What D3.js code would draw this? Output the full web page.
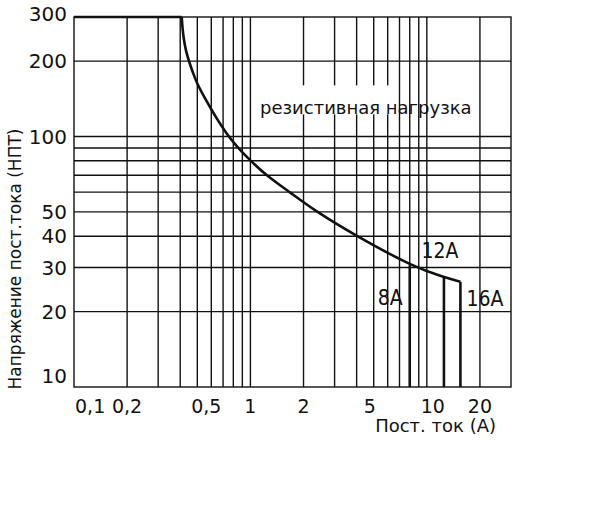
<!DOCTYPE html>
<html>
<head>
<meta charset="utf-8">
<script src="https://cdn.jsdelivr.net/npm/d3@7/dist/d3.min.js"></script>
<style>
  html, body { margin: 0; padding: 0; background: #fff; }
  svg { display: block; }
  text { font-family: "DejaVu Sans", sans-serif; fill: #111; }
</style>
</head>
<body>
<script>
// ---- data ----
const xTickValues = [0.1, 0.2, 0.5, 1, 2, 5, 10, 20];
const xTickLabels = ["0,1", "0,2", "0,5", "1", "2", "5", "10", "20"];
const xGrid = [0.2, 0.3, 0.4, 0.5, 0.6, 0.7, 0.8, 0.9, 1, 2, 3, 4, 5, 6, 7, 8, 9, 10, 20];
const yTickValues = [10, 20, 30, 40, 50, 100, 200, 300];
const yTickLabels = ["10", "20", "30", "40", "50", "100", "200", "300"];
const yGrid = [20, 30, 40, 50, 60, 70, 80, 90, 100, 200];
// load limit curve: current (A), voltage (V)
const flatCurrent = [0.1, 0.408];
const flatVoltage = [300, 300];
const curveCurrent = [0.408, 0.412, 0.42, 0.432, 0.448, 0.485, 0.527, 0.735, 1, 1.23, 1.67, 2.37, 4, 8.5, 12.5, 15.5];
const curveVoltage = [300, 270, 242, 218, 200, 170, 150, 100, 80, 70, 60, 50, 40, 30, 27.5, 26.3];
// current limits (vertical drops)
const limitLabels = ["8A", "12A", "16A"];
const limitCurrent = [8, 12.5, 15.5];
const limitVoltage = [30.6, 27.5, 26.3];
const title = "резистивная нагрузка";
const xTitle = "Пост. ток (А)";
const yTitle = "Напряжение пост.тока (НПТ)";

// ---- layout ----
const W = 602, H = 524;
const svg = d3.select("body").append("svg").attr("width", W).attr("height", H);
const x = d3.scaleLog().domain([0.1, 30]).range([74, 511]);
const y = d3.scaleLog().domain([10, 300]).range([387, 17]);
const ink = "#111";

// grid
const g = svg.append("g");
g.selectAll(".vg").data(xGrid).enter().append("line")
  .attr("x1", d => x(d)).attr("x2", d => x(d))
  .attr("y1", y(300)).attr("y2", y(10))
  .attr("stroke", ink).attr("stroke-width", 1.4);
g.selectAll(".hg").data(yGrid).enter().append("line")
  .attr("x1", x(0.1)).attr("x2", x(30))
  .attr("y1", d => y(d)).attr("y2", d => y(d))
  .attr("stroke", ink).attr("stroke-width", 1.4);
// frame
g.append("rect").attr("x", x(0.1)).attr("y", y(300))
  .attr("width", x(30) - x(0.1)).attr("height", y(10) - y(300))
  .attr("fill", "none").attr("stroke", ink).attr("stroke-width", 1.4);

// label box + text
svg.append("rect").attr("x", x(0.7) + 30).attr("y", y(160))
  .attr("width", 140).attr("height", 29).attr("fill", "#fff");
svg.append("text").attr("x", 260).attr("y", 114)
  .attr("font-size", 18).text(title);

// curve
const pts = curveCurrent.map((c, i) => [x(c), y(curveVoltage[i])]);
const flat = flatCurrent.map((c, i) => [x(c), y(flatVoltage[i])]);
svg.append("path").attr("d", d3.line()(flat))
  .attr("fill", "none").attr("stroke", ink).attr("stroke-width", 2.6);
svg.append("path").attr("d", d3.line().curve(d3.curveBasis)(pts))
  .attr("fill", "none").attr("stroke", ink).attr("stroke-width", 2.6)
  .attr("stroke-linejoin", "round");

// drops
svg.selectAll(".drop").data(limitCurrent).enter().append("line")
  .attr("x1", d => x(d)).attr("x2", d => x(d))
  .attr("y1", (d, i) => y(limitVoltage[i])).attr("y2", y(10))
  .attr("stroke", ink).attr("stroke-width", 2.6);

// limit labels
const lf = "'DejaVu Sans Condensed', 'DejaVu Sans', sans-serif";
svg.append("text").attr("x", x(limitCurrent[0]) - 7).attr("y", y(21.2))
  .attr("text-anchor", "end").attr("font-size", 21).style("font-family", lf).text(limitLabels[0]);
svg.append("text").attr("x", x(limitCurrent[1]) - 4).attr("y", y(32.6))
  .attr("text-anchor", "middle").attr("font-size", 21).style("font-family", lf).text(limitLabels[1]);
svg.append("text").attr("x", x(limitCurrent[2]) + 6).attr("y", y(21))
  .attr("text-anchor", "start").attr("font-size", 21).style("font-family", lf).text(limitLabels[2]);

// x tick labels
const xNudge = {"0,1": 0, "0,5": 9, "5": -4, "10": 6};
svg.selectAll(".xt").data(xTickValues).enter().append("text")
  .attr("x", (d, i) => x(d) + (xNudge[xTickLabels[i]] || 0) + (i === 0 ? 1 : 0))
  .attr("y", 413)
  .attr("text-anchor", (d, i) => i === 0 ? "start" : "middle")
  .attr("font-size", 19).text((d, i) => xTickLabels[i]);

// y tick labels
const yNudge = {"10": -11, "300": -3};
svg.selectAll(".yt").data(yTickValues).enter().append("text")
  .attr("x", 67).attr("y", (d, i) => y(d) + (yNudge[yTickLabels[i]] || 0))
  .attr("dy", "0.36em").attr("text-anchor", "end")
  .attr("font-size", 20).text((d, i) => yTickLabels[i]);

// axis titles
svg.append("text").attr("x", 496).attr("y", 432).attr("text-anchor", "end")
  .attr("font-size", 18).text(xTitle);
svg.append("text").attr("transform", "translate(21,259) rotate(-90)")
  .attr("text-anchor", "middle").attr("font-size", 17).text(yTitle);
</script>
</body>
</html>
